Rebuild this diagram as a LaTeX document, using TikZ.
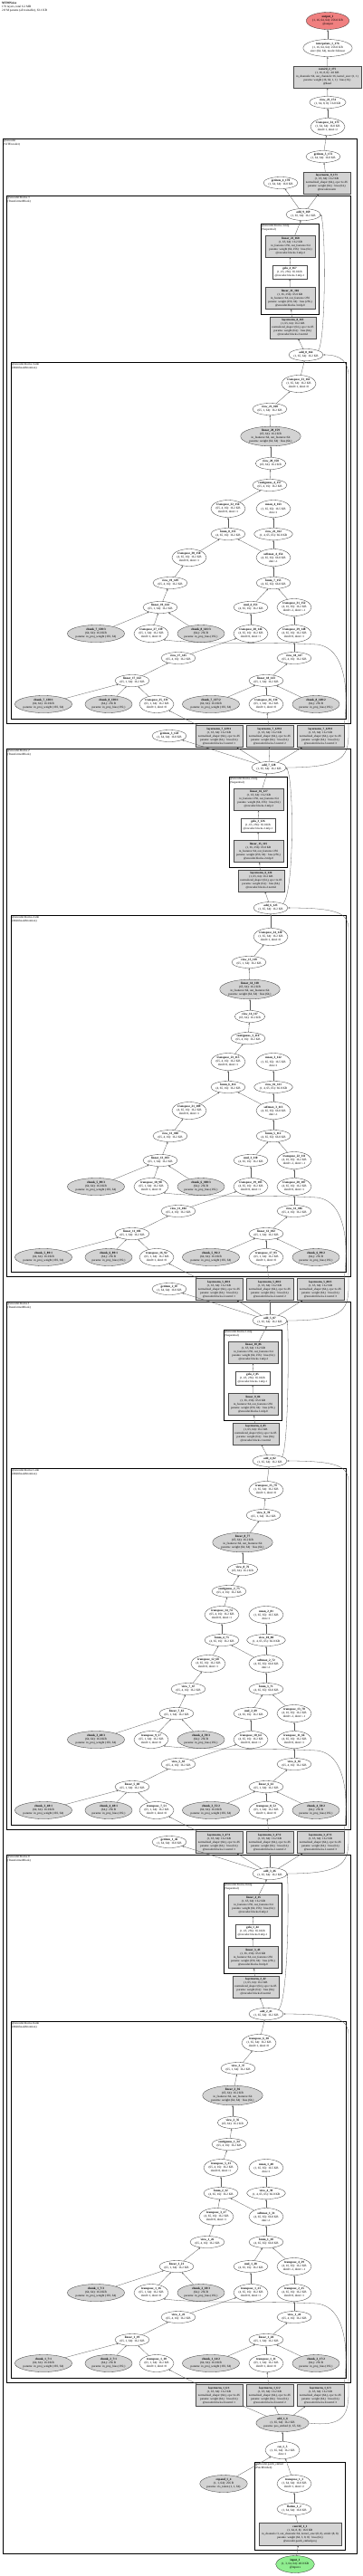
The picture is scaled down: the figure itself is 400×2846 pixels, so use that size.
\documentclass[tikz,border=0pt]{standalone}
\usepackage{fontspec}
\setmainfont{Liberation Serif}
\usepackage{tikz}
\usetikzlibrary{shapes.geometric, arrows.meta, positioning}
\definecolor{modgray}{HTML}{D3D3D3}
\definecolor{outred}{HTML}{F08080}
\definecolor{ingreen}{HTML}{90EE90}

\newcommand{\cnt}[1]{\ifnum\numexpr#1\relax<1 1\else\the\numexpr#1\relax\fi}
\newcommand{\opn}[3]{\textbf{#1\_\cnt{#2}\_\cnt{#3}}}

\begin{document}
\begin{tikzpicture}[
    x=1pt, y=-1pt,
    op/.style={ellipse, draw=black!80, line width=0.3pt, inner sep=0pt, minimum height=13pt, align=center, font=\fontsize{3.3}{4.1}\selectfont},
    op3/.style={op, minimum height=19pt},
    par/.style={op3, fill=modgray},
    mod/.style={rectangle, draw=black!70, line width=0.3pt, fill=modgray, inner sep=0.5pt, minimum width=52pt, minimum height=24pt, align=center, font=\fontsize{3.2}{4.0}\selectfont},
    fn/.style={mod, fill=white, minimum width=38pt, minimum height=15pt},
    grp/.style={draw, line width=1pt},
    grplabel/.style={anchor=north west, inner sep=1pt, align=left, font=\fontsize{3.2}{3.7}\selectfont},
    wire/.style={-{Stealth[length=2.2pt,width=1.6pt]}, line width=0.3pt, draw=black!65},
]
\useasboundingbox (0,0) rectangle (400,2846);

\node[anchor=north west, inner sep=1pt, align=left, font=\fontsize{3.3}{3.8}\selectfont] (title) at (1,1)
    {\textbf{MTMNoise}\\176 layers, total 6.2 MB\\2.8 M params (all trainable), 63.1 KB};

% Encoder
\draw[grp] (3,153) rectangle (394,2821);
\node[grplabel] (enc) at (3,153) {@encoder\\(ViTEncoder)};

% Patch embedding
\draw[grp] (281,2720) rectangle (381,2817);
\node[grplabel] (pe) at (281,2720) {@encoder.patch\_embed\\(PatchEmbed)};
\node[op3, fill=ingreen] (inp) at (326,2833) {\textbf{input\_1}\\(1, 3, 64, 64): 48.0 KB\\@input.x};
\node[mod, minimum width=91pt, minimum height=25pt] (cv1) at (331.5,2799.5)
    {\textbf{conv2d\_1\_1}\\(1, 64, 8, 8): 16.0 KB\\in\_channels=3, out\_channels=64, kernel\_size=(8, 8), stride=(8, 8)\\params: weight (64, 3, 8, 8) · bias (64,)\\@encoder.patch\_embed.proj};
\node[op] (fl2) at (325,2772) {\textbf{flatten\_1\_2}\\(1, 64, 64): 16.0 KB};
\node[op3] (tr3) at (325,2744) {\textbf{transpose\_1\_3}\\(1, 64, 64): 16.0 KB\\dim0=1, dim1=2};
\node[par] (ex4) at (247,2744) {\textbf{expand\_1\_4}\\(1, 1, 64): 256 B\\params: cls\_token (1, 1, 64)};
\node[op3] (cat5) at (312,2707) {\textbf{cat\_1\_5}\\(1, 65, 64): 16.2 KB\\dim=1};
\node[par] (addtop-1) at (312,2677) {\textbf{add\_1\_6}\\(1, 65, 64): 16.2 KB\\params: pos\_embed (1, 65, 64)};
\draw[wire] (inp) -- (cv1);
\draw[wire] (cv1) -- (fl2);
\draw[wire] (fl2) -- (tr3);
\draw[wire] (tr3) -- (cat5);
\draw[wire] (ex4) -- (cat5);
\draw[wire] (cat5) -- (addtop-1);

% Transformer blocks
\foreach \bk/\ty/\xadd/\xmid/\xmlp/\xout/\xvo/\xpj/\xct/\xpv/\xsm/\xtv/\xvv/\xlv in {
    0/2049/298/294/247/286/263/257/253/244/294/239/229/195,
    1/1438/298/298/247/294/291/268/253/245/294/230/208/195,
    2/827/297/299/253/299/275/276/274/252/302/209/188/177,
    3/216/335/338/288/330/298/299/298/252/302/209/188/177}{
  \pgfmathtruncatemacro\pb{\bk-1}
  \draw[grp] (7,\ty) rectangle (387,\ty+583);
  \node[grplabel] (blk\bk) at (7,\ty) {@encoder.blocks.\bk\\(TransformerBlock)};
  \draw[grp] (12,\ty+184) rectangle (382,\ty+578);
  \node[grplabel] (att\bk) at (12,\ty+184) {@encoder.blocks.\bk.attn\\(MultiheadAttention)};
  \draw[grp] (\xmlp,\ty+31) rectangle (\xmlp+64,\ty+131);
  \node[grplabel] (mlp\bk) at (\xmlp,\ty+31) {@encoder.blocks.\bk.mlp\\(Sequential)};

  % norm1, fed from the block below
  \node[mod] (na\bk) at (242,\ty+597.5) {\textbf{layernorm\_\cnt{2*\bk+1}\_\cnt{41*\bk+6}:1}\\(1, 65, 64): 16.2 KB\\normalized\_shape=(64,), eps=1e-05\\params: weight (64,) · bias (64,)\\@encoder.blocks.\bk.norm1:1};
  \node[mod] (nb\bk) at (298,\ty+597.5) {\textbf{layernorm\_\cnt{2*\bk+1}\_\cnt{41*\bk+6}:2}\\(1, 65, 64): 16.2 KB\\normalized\_shape=(64,), eps=1e-05\\params: weight (64,) · bias (64,)\\@encoder.blocks.\bk.norm1:2};
  \node[mod] (nc\bk) at (354,\ty+597.5) {\textbf{layernorm\_\cnt{2*\bk+1}\_\cnt{41*\bk+6}:3}\\(1, 65, 64): 16.2 KB\\normalized\_shape=(64,), eps=1e-05\\params: weight (64,) · bias (64,)\\@encoder.blocks.\bk.norm1:3};
  \ifnum\bk>0
    \node[op] (gi\bk) at (187,\ty+597) {\opn{getitem}{\bk}{41*\bk+5}\\(1, 64, 64): 16.0 KB};
    \draw[wire] (addtop\pb) -- (gi\bk);
  \fi
  \draw[wire] (addtop\pb) -- (na\bk);
  \draw[wire] (addtop\pb) -- (nb\bk);
  \draw[wire] (addtop\pb) -- (nc\bk);

  % attention: projections
  \node[par] (cwa\bk) at (48,\ty+562) {\textbf{chunk\_\cnt{2*\bk+1}\_\cnt{41*\bk+7}:1}\\(64, 64): 16.0 KB\\params: in\_proj\_weight (192, 64)};
  \node[par] (cba\bk) at (120,\ty+562) {\textbf{chunk\_\cnt{2*\bk+2}\_\cnt{41*\bk+7}:1}\\(64,): 256 B\\params: in\_proj\_bias (192,)};
  \node[op3] (tia\bk) at (173,\ty+562) {\opn{transpose}{9*\bk-2}{41*\bk+10}\\(65, 1, 64): 16.2 KB\\dim0=1, dim1=0};
  \node[par] (cwb\bk) at (233,\ty+562) {\textbf{chunk\_\cnt{2*\bk+1}\_\cnt{41*\bk+14}:2}\\(64, 64): 16.0 KB\\params: in\_proj\_weight (192, 64)};
  \node[op3] (tib\bk) at (294,\ty+562) {\opn{transpose}{9*\bk-1}{41*\bk+11}\\(65, 1, 64): 16.2 KB\\dim0=1, dim1=0};
  \node[par] (cbb\bk) at (349,\ty+562) {\textbf{chunk\_\cnt{2*\bk+2}\_\cnt{41*\bk+17}:2}\\(64,): 256 B\\params: in\_proj\_bias (192,)};
  \node[op] (lq\bk) at (146,\ty+536) {\opn{linear}{6*\bk-1}{41*\bk+19}\\(65, 1, 64): 16.2 KB};
  \node[op] (lk\bk) at (294,\ty+536) {\opn{linear}{6*\bk}{41*\bk+20}\\(65, 1, 64): 16.2 KB};
  \node[op] (vq\bk) at (197,\ty+511) {\opn{view}{6*\bk-1}{41*\bk+22}\\(65, 4, 16): 16.2 KB};
  \node[op] (vk\bk) at (325,\ty+511) {\opn{view}{6*\bk}{41*\bk+24}\\(65, 4, 16): 16.2 KB};
  \node[par] (cwc\bk) at (106,\ty+484) {\textbf{chunk\_\cnt{2*\bk+1}\_\cnt{41*\bk+7}:3}\\(64, 64): 16.0 KB\\params: in\_proj\_weight (192, 64)};
  \node[op3] (tin\bk) at (167,\ty+484) {\opn{transpose}{9*\bk}{41*\bk+16}\\(65, 1, 64): 16.2 KB\\dim0=1, dim1=0};
  \node[par] (cbc\bk) at (222,\ty+484) {\textbf{chunk\_\cnt{2*\bk+2}\_\cnt{41*\bk+18}:3}\\(64,): 256 B\\params: in\_proj\_bias (192,)};
  \node[op3] (tq\bk) at (277,\ty+484) {\opn{transpose}{9*\bk+1}{41*\bk+23}\\(4, 65, 16): 16.2 KB\\dim0=0, dim1=1};
  \node[op3] (tk\bk) at (325,\ty+484) {\opn{transpose}{9*\bk+2}{41*\bk+25}\\(4, 65, 16): 16.2 KB\\dim0=0, dim1=1};
  \node[op] (lv\bk) at (\xlv,\ty+455) {\opn{linear}{6*\bk+1}{41*\bk+21}\\(65, 1, 64): 16.2 KB};
  \node[op] (mul\bk) at (277,\ty+455) {\opn{mul}{\bk+1}{41*\bk+28}\\(4, 65, 16): 16.2 KB};
  \node[op3] (tkk\bk) at (325,\ty+455) {\opn{transpose}{9*\bk+4}{41*\bk+29}\\(4, 16, 65): 16.2 KB\\dim0=-2, dim1=-1};

  % attention: scores and output
  \node[op] (vv\bk) at (\xvv,\ty+428) {\opn{view}{6*\bk+1}{41*\bk+26}\\(65, 4, 16): 16.2 KB};
  \node[op] (bqk\bk) at (\xsm,\ty+428) {\opn{bmm}{2*\bk+1}{41*\bk+30}\\(4, 65, 65): 66.0 KB};
  \node[op3] (tv\bk) at (\xtv,\ty+400) {\opn{transpose}{9*\bk+3}{41*\bk+27}\\(4, 65, 16): 16.2 KB\\dim0=0, dim1=1};
  \node[op3] (smx\bk) at (\xsm,\ty+400) {\opn{softmax}{\bk+1}{41*\bk+31}\\(4, 65, 65): 66.0 KB\\dim=-1};
  \node[op] (bpv\bk) at (\xpv,\ty+374) {\opn{bmm}{2*\bk+2}{41*\bk+32}\\(4, 65, 16): 16.2 KB};
  \node[op] (vat\bk) at (\xsm,\ty+374) {\opn{view}{6*\bk+4}{41*\bk+39}\\(1, 4, 65, 65): 66.0 KB};
  \node[op3] (tpv\bk) at (\xpv,\ty+346) {\opn{transpose}{9*\bk+5}{41*\bk+33}\\(65, 4, 16): 16.2 KB\\dim0=0, dim1=1};
  \node[op3] (mean\bk) at (\xsm,\ty+346) {\opn{mean}{\bk+1}{41*\bk+40}\\(1, 65, 65): 16.5 KB\\dim=1};
  \node[op] (ct\bk) at (\xct,\ty+320) {\opn{contiguous}{\bk+1}{41*\bk+34}\\(65, 4, 16): 16.2 KB};
  \node[op] (vc\bk) at (\xpj,\ty+296) {\opn{view}{6*\bk+2}{41*\bk+35}\\(65, 64): 16.2 KB};
  \node[op, fill=modgray] (pj\bk) at (\xpj,\ty+266) {\opn{linear}{6*\bk+2}{41*\bk+36}\\(65, 64): 16.2 KB\\in\_features=64, out\_features=64\\params: weight (64, 64) · bias (64,)};
  \node[op] (vo\bk) at (\xvo,\ty+236) {\opn{view}{6*\bk+3}{41*\bk+37}\\(65, 1, 64): 16.2 KB};
  \node[op3] (to\bk) at (\xout,\ty+208) {\opn{transpose}{9*\bk+6}{41*\bk+38}\\(1, 65, 64): 16.2 KB\\dim0=1, dim1=0};

  % residuals and mlp
  \node[op] (mid\bk) at (\xmid,\ty+176) {\opn{add}{2*\bk+2}{41*\bk+41}\\(1, 65, 64): 16.2 KB};
  \node[mod, minimum width=51pt] (nn\bk) at (\xmlp+35.5,\ty+146) {\opn{layernorm}{2*\bk+2}{41*\bk+42}\\(1, 65, 64): 16.2 KB\\normalized\_shape=(64,), eps=1e-05\\params: weight (64,) · bias (64,)\\@encoder.blocks.\bk.norm2};
  \node[mod, minimum width=55pt] (la\bk) at (\xmlp+32.5,\ty+113.5) {\opn{linear}{6*\bk+3}{41*\bk+43}\\(1, 65, 256): 65.0 KB\\in\_features=64, out\_features=256\\params: weight (256, 64) · bias (256,)\\@encoder.blocks.\bk.mlp.0};
  \node[fn] (gl\bk) at (\xmlp+32,\ty+84.5) {\opn{gelu}{\bk+1}{41*\bk+44}\\(1, 65, 256): 65.0 KB\\@encoder.blocks.\bk.mlp.1};
  \node[mod, minimum width=55pt] (lb\bk) at (\xmlp+33,\ty+56) {\opn{linear}{6*\bk+4}{41*\bk+45}\\(1, 65, 64): 16.2 KB\\in\_features=256, out\_features=64\\params: weight (64, 256) · bias (64,)\\@encoder.blocks.\bk.mlp.2};
  \node[op] (addtop\bk) at (\xadd,\ty+21) {\opn{add}{2*\bk+3}{41*\bk+46}\\(1, 65, 64): 16.2 KB};

  % edges
  \draw[wire] (na\bk) -- (tia\bk);
  \draw[wire] (nb\bk) -- (tib\bk);
  \draw[wire] (nc\bk.north east) .. controls (384,\ty+560) and (386,\ty+500) .. (350,\ty+496) .. controls (300,\ty+493) and (220,\ty+496) .. (tin\bk.south east);
  \draw[wire] (addtop\pb.east) .. controls (376,\ty+632) and (385,\ty+622) .. (385,\ty+595) -- (385,\ty+200) .. controls (385,\ty+183) and (376,\ty+176) .. (mid\bk.east);
  \draw[wire] (cwa\bk) -- (lq\bk);
  \draw[wire] (cba\bk) -- (lq\bk);
  \draw[wire] (tia\bk) -- (lq\bk);
  \draw[wire] (cwb\bk) -- (lk\bk);
  \draw[wire] (tib\bk) -- (lk\bk);
  \draw[wire] (cbb\bk) -- (lk\bk);
  \draw[wire] (lq\bk) -- (vq\bk);
  \draw[wire] (lk\bk) -- (vk\bk);
  \draw[wire] (vq\bk) -- (tq\bk);
  \draw[wire] (vk\bk) -- (tk\bk);
  \draw[wire] (cwc\bk) -- (lv\bk);
  \draw[wire] (tin\bk) -- (lv\bk);
  \draw[wire] (cbc\bk) -- (lv\bk);
  \draw[wire] (tq\bk) -- (mul\bk);
  \draw[wire] (tk\bk) -- (tkk\bk);
  \draw[wire] (mul\bk) -- (bqk\bk);
  \draw[wire] (tkk\bk) -- (bqk\bk);
  \draw[wire] (lv\bk) -- (vv\bk);
  \draw[wire] (vv\bk) -- (tv\bk);
  \draw[wire] (bqk\bk) -- (smx\bk);
  \draw[wire] (tv\bk) -- (bpv\bk);
  \draw[wire] (smx\bk) -- (bpv\bk);
  \draw[wire] (smx\bk) -- (vat\bk);
  \draw[wire] (vat\bk) -- (mean\bk);
  \draw[wire] (bpv\bk) -- (tpv\bk);
  \draw[wire] (tpv\bk) -- (ct\bk);
  \draw[wire] (ct\bk) -- (vc\bk);
  \draw[wire] (vc\bk) -- (pj\bk);
  \draw[wire] (pj\bk) -- (vo\bk);
  \draw[wire] (vo\bk) -- (to\bk);
  \draw[wire] (to\bk) -- (mid\bk);
  \draw[wire] (mid\bk) -- (nn\bk);
  \draw[wire] (nn\bk) -- (la\bk);
  \draw[wire] (la\bk) -- (gl\bk);
  \draw[wire] (gl\bk) -- (lb\bk);
  \draw[wire] (lb\bk) -- (addtop\bk);
  \draw[wire] (mid\bk.north east) .. controls (\xmlp+72,\ty+160) and (\xmlp+72,\ty+35) .. (addtop\bk.east);
}

% Head
\node[op] (gi170) at (310,202) {\textbf{getitem\_4\_170}\\(1, 64, 64): 16.0 KB};
\node[mod] (ln171) at (361,202) {\textbf{layernorm\_9\_171}\\(1, 65, 64): 16.2 KB\\normalized\_shape=(64,), eps=1e-05\\params: weight (64,) · bias (64,)\\@encoder.norm};
\node[op] (gi172) at (357,173) {\textbf{getitem\_5\_172}\\(1, 64, 64): 16.0 KB};
\node[op3] (tr173) at (362,140) {\textbf{transpose\_34\_173}\\(1, 64, 64): 16.0 KB\\dim0=1, dim1=2};
\node[op] (vw174) at (362,113) {\textbf{view\_23\_174}\\(1, 64, 8, 8): 16.0 KB};
\node[mod, minimum width=75pt] (cv175) at (361.5,85) {\textbf{conv2d\_2\_175}\\(1, 16, 8, 8): 4.0 KB\\in\_channels=64, out\_channels=16, kernel\_size=(1, 1)\\params: weight (16, 64, 1, 1) · bias (16,)\\@head};
\node[op3] (ip176) at (362,53) {\textbf{interpolate\_1\_176}\\(1, 16, 64, 64): 256.0 KB\\size=(64, 64), mode=bilinear};
\node[op3, fill=outred] (out) at (362,23) {\textbf{output\_1}\\(1, 16, 64, 64): 256.0 KB\\@output};
\draw[wire] (addtop3) -- (gi170);
\draw[wire] (addtop3) -- (ln171);
\draw[wire] (ln171) -- (gi172);
\draw[wire] (gi172) -- (tr173);
\draw[wire] (tr173) -- (vw174);
\draw[wire] (vw174) -- (cv175);
\draw[wire] (cv175) -- (ip176);
\draw[wire] (ip176) -- (out);

\end{tikzpicture}
\end{document}
